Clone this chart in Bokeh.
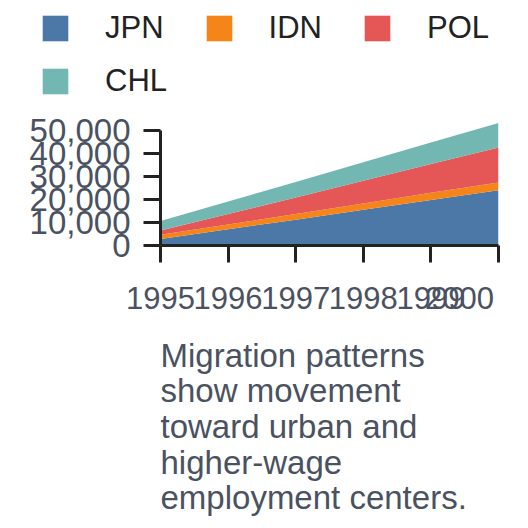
from bokeh.plotting import figure
from bokeh.layouts import column, row
from bokeh.models import (Range1d, FixedTicker, NumeralTickFormatter, Legend,
                          LegendItem, Title)
from bokeh.embed import file_html
from bokeh.resources import INLINE

years = [1995, 1996, 1997, 1998, 1999, 2000]
countries = ["JPN", "IDN", "POL", "CHL"]
jpn = [2800, 7000, 11200, 15500, 19700, 23900]
idn = [1800, 2100, 2400, 2700, 3100, 3400]
pol = [1900, 4500, 7200, 9800, 12500, 15100]
chl = [4100, 5400, 6700, 8000, 9300, 10600]
colors = ["#4c78a8", "#f58518", "#e45756", "#72b7b2"]
y_ticks = [0, 10000, 20000, 30000, 40000, 50000]
caption = "Migration patterns\nshow movement\ntoward urban and\nhigher-wage\nemployment centers."

FONT = "Liberation Sans"
TICK_COLOR = "#4a5261"
AXIS_COLOR = "#222222"
NBSP = "\u00a0"

series = [jpn, idn, pol, chl]


def stack_areas(fig, visible=True):
    bottom = [0] * len(years)
    rs = []
    for vals, col in zip(series, colors):
        top = [b + v for b, v in zip(bottom, vals)]
        r = fig.varea(x=years, y1=bottom, y2=top, fill_color=col,
                      fill_alpha=1.0, visible=visible)
        rs.append(r)
        bottom = top
    return rs


# ---- legend strip ----
lf = figure(output_backend="svg", toolbar_location=None, width=528, height=110,
            x_axis_type=None, y_axis_type=None, min_border=0,
            x_range=Range1d(0, 1), y_range=Range1d(0, 1))
lf.outline_line_color = None
lf.xgrid.visible = False
lf.ygrid.visible = False
lrs = stack_areas(lf, visible=False)


def make_legend(items, loc):
    lg = Legend(items=items, orientation="horizontal", location=loc,
                glyph_width=32, glyph_height=32, label_standoff=34,
                spacing=39, padding=0, margin=0,
                border_line_color=None, background_fill_alpha=0,
                inactive_fill_alpha=0,
                label_text_font=FONT, label_text_font_size="31px",
                label_text_color="#222222")
    lf.add_layout(lg, "center")
    return lg


make_legend([LegendItem(label=countries[i], renderers=[lrs[i]]) for i in range(3)], (39, 64))
make_legend([LegendItem(label=countries[3], renderers=[lrs[3]])], (39, 11))

# ---- main chart ----
p = figure(output_backend="svg", toolbar_location=None,
           frame_width=338, frame_height=124,
           min_border_left=160, min_border_right=30,
           min_border_top=11, min_border_bottom=0,
           x_range=Range1d(1995, 2000), y_range=Range1d(0, 53680))
p.outline_line_color = None
p.xgrid.visible = False
p.ygrid.visible = False
stack_areas(p)

for ax in (p.xaxis[0], p.yaxis[0]):
    ax.axis_line_color = AXIS_COLOR
    ax.axis_line_width = 3
    ax.major_tick_line_color = AXIS_COLOR
    ax.major_tick_line_width = 3
    ax.major_tick_out = 17
    ax.major_tick_in = 0
    ax.minor_tick_line_color = None
    ax.major_label_text_font = FONT
    ax.major_label_text_color = TICK_COLOR

p.xaxis.ticker = FixedTicker(ticks=years)
p.xaxis.major_label_standoff = 18
p.xaxis.major_label_text_font_size = "31px"
p.xaxis.major_label_overrides = {2000: "2000" + NBSP * 4}
p.yaxis.ticker = FixedTicker(ticks=y_ticks)
p.yaxis.formatter = NumeralTickFormatter(format="0,0")
p.yaxis.bounds = (0, 50000)
p.yaxis.major_label_standoff = 13
p.yaxis.major_label_text_font_size = "33px"

t = Title(text=caption, align="left", text_font=FONT, text_font_size="33px",
          text_color=TICK_COLOR, text_font_style="normal",
          text_line_height=0.965, standoff=32)
p.add_layout(t, "below")

layout = column(row(lf, spacing=0), p, spacing=0)
open("out.html", "w").write(file_html(layout, INLINE))
